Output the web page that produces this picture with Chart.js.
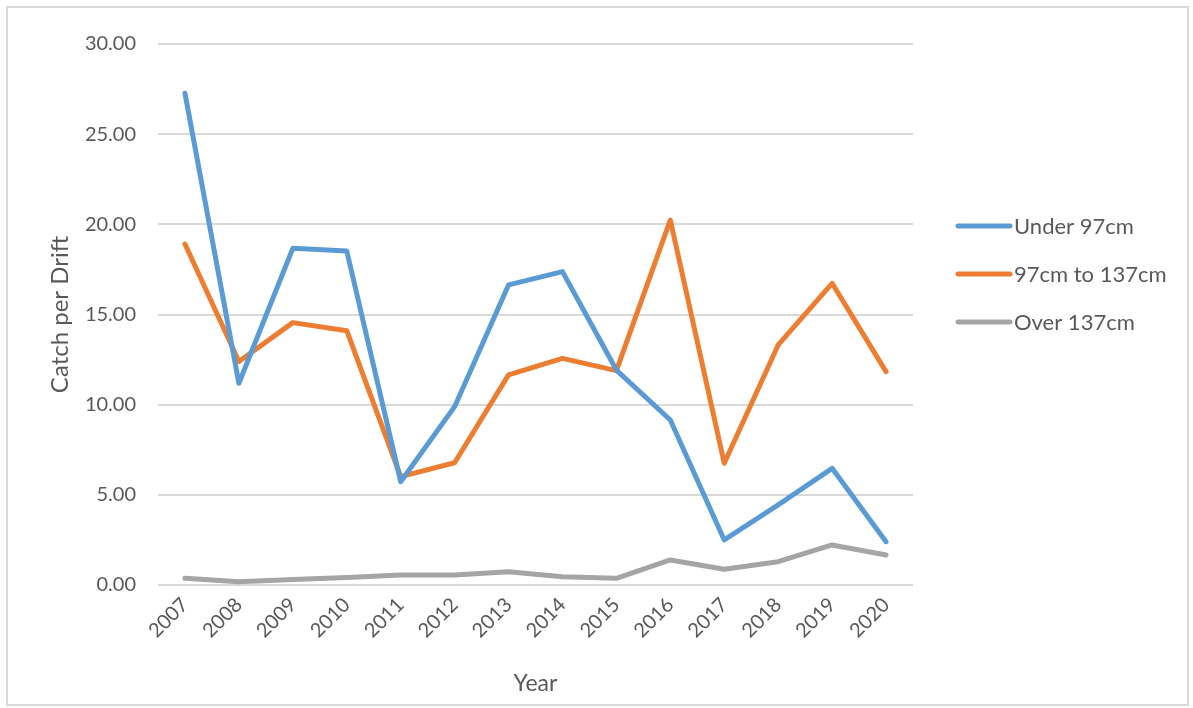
<!DOCTYPE html>
<html>
<head>
<meta charset="utf-8">
<script src="https://cdn.jsdelivr.net/npm/chart.js@4"></script>
<style>
  html, body { margin: 0; padding: 0; background: #fff; }
  #wrap { width: 1193px; height: 708px; position: relative; }
</style>
</head>
<body>
<div id="wrap"><canvas id="chart"></canvas></div>
<script>
const years = ['2007','2008','2009','2010','2011','2012','2013','2014','2015','2016','2017','2018','2019','2020'];
const under97 = [27.27, 11.19, 18.67, 18.52, 5.73, 9.89, 16.64, 17.38, 11.92, 9.15, 2.50, 4.44, 6.47, 2.40];
const mid97to137 = [18.91, 12.39, 14.55, 14.10, 6.01, 6.78, 11.65, 12.57, 11.89, 20.24, 6.75, 13.31, 16.73, 11.83];
const over137 = [0.37, 0.18, 0.30, 0.42, 0.55, 0.55, 0.74, 0.46, 0.37, 1.39, 0.87, 1.29, 2.22, 1.66];
const seriesNames = ['Under 97cm', '97cm to 137cm', 'Over 137cm'];

const colors = ['#5B9BD5', '#ED7D31', '#A5A5A5'];
const textColor = '#595959';
const fontFamily = 'Lato, "Open Sans", sans-serif';

Chart.defaults.font.family = fontFamily;
Chart.defaults.color = textColor;

// frame + legend drawn by hand, Excel-style
const excelBits = {
  id: 'excelBits',
  beforeDraw(chart) {
    const ctx = chart.ctx;
    ctx.save();
    ctx.strokeStyle = '#D9D9D9';
    ctx.lineWidth = 2;
    ctx.strokeRect(7, 7, 1181, 698);
    ctx.restore();
  },
  afterDraw(chart) {
    const ctx = chart.ctx;
    ctx.save();
    chart.data.datasets.forEach((ds, i) => {
      const y = 226 + i * 48;
      ctx.strokeStyle = ds.borderColor;
      ctx.lineWidth = 5;
      ctx.lineCap = 'round';
      ctx.beginPath();
      ctx.moveTo(958, y);
      ctx.lineTo(1010, y);
      ctx.stroke();
      ctx.fillStyle = textColor;
      ctx.font = '22px ' + fontFamily;
      ctx.textBaseline = 'middle';
      ctx.textAlign = 'left';
      ctx.fillText(ds.label, 1014, y + 1);
    });
    ctx.restore();
  }
};

const mkSet = (label, data, color) => ({
  label, data,
  borderColor: color,
  backgroundColor: color,
  borderWidth: 5,
  pointRadius: 0,
  borderCapStyle: 'round',
  borderJoinStyle: 'round',
  tension: 0
});

new Chart(document.getElementById('chart'), {
  type: 'line',
  data: {
    labels: years,
    datasets: [
      mkSet(seriesNames[0], under97, colors[0]),
      mkSet(seriesNames[1], mid97to137, colors[1]),
      mkSet(seriesNames[2], over137, colors[2])
    ]
  },
  options: {
    responsive: true,
    maintainAspectRatio: false,
    animation: false,
    layout: { padding: { left: 46, top: 44, right: 280, bottom: 11 } },
    plugins: { legend: { display: false }, tooltip: { enabled: false } },
    scales: {
      x: {
        offset: true,
        grid: { display: false, drawTicks: false },
        border: { display: false },
        ticks: { font: { size: 20 }, color: textColor, minRotation: 45, maxRotation: 45, padding: 8, autoSkip: false },
        title: { display: true, text: 'Year', font: { size: 23 }, color: textColor, padding: 0 },
        afterFit(scale) { scale.height = 112; }
      },
      y: {
        min: 0, max: 30,
        ticks: { stepSize: 5, font: { size: 20 }, color: textColor, padding: 22,
          callback: v => v.toFixed(2) },
        grid: { color: '#D9D9D9', lineWidth: 2, drawTicks: false },
        border: { display: false },
        title: { display: true, text: 'Catch per Drift', font: { size: 24 }, color: textColor, padding: 0 },
        afterFit(scale) { scale.width = 112; }
      }
    }
  },
  plugins: [excelBits]
});
</script>
</body>
</html>
